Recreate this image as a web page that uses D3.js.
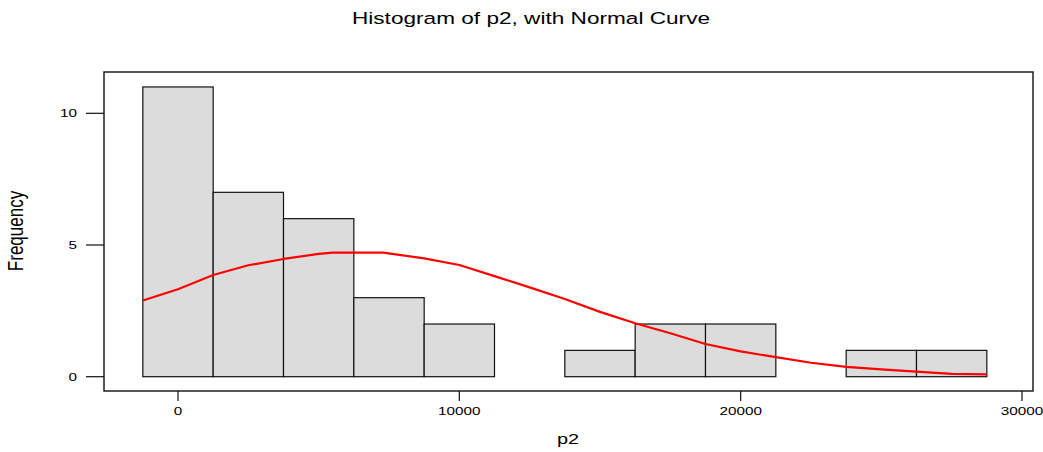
<!DOCTYPE html>
<html><head><meta charset="utf-8">
<script src="https://cdn.jsdelivr.net/npm/d3@7"></script>
<style>body{margin:0;background:#fff}svg{display:block}text{font-family:"Liberation Sans",Arial,sans-serif;fill:#000}</style>
</head><body><svg id="c" width="1043" height="452"></svg>
<script>
const binEdges = [-1250,1250,3750,6250,8750,11250,13750,16250,18750,21250,23750,26250,28750];
const counts = [11,7,6,3,2,0,1,2,2,0,1,1];
const curveX = [-1250,0,1250,2500,3750,5000,5500,6250,7300,8750,10000,11250,12500,13750,15000,16250,17500,18750,20000,21250,22500,23750,25000,26250,27500,28750];
const curveY = [2.89,3.32,3.86,4.23,4.47,4.66,4.71,4.71,4.71,4.49,4.24,3.82,3.39,2.95,2.46,2.03,1.65,1.24,0.96,0.74,0.53,0.375,0.28,0.19,0.11,0.09];
const xTicks = [0,10000,20000,30000];
const yTicks = [0,5,10];
const title = "Histogram of p2, with Normal Curve";
const xLabel = "p2", yLabel = "Frequency";

const svg = d3.select("#c");
const SX = 1.33;
const x = d3.scaleLinear().domain([0,30000]).range([178,1022]);
const y = d3.scaleLinear().domain([0,10]).range([376.7,113.3]);

// frame
svg.append("rect").attr("x",104).attr("y",72).attr("width",929).attr("height",319)
  .attr("fill","none").attr("stroke","#111").attr("stroke-width",1.4);

// bars
const bins = counts.map((c,i)=>({x0:binEdges[i],x1:binEdges[i+1],c}));
svg.append("g").selectAll("rect").data(bins).join("rect")
  .attr("x",d=>x(d.x0)).attr("width",d=>x(d.x1)-x(d.x0))
  .attr("y",d=>y(d.c)).attr("height",d=>y(0)-y(d.c))
  .attr("fill","#dcdcdc").attr("stroke","#111").attr("stroke-width",1.2);

// curve
const pts = curveX.map((v,i)=>[v,curveY[i]]);
svg.append("path").datum(pts)
  .attr("d",d3.line().x(d=>x(d[0])).y(d=>y(d[1])))
  .attr("fill","none").attr("stroke","#ff0000").attr("stroke-width",2.2).attr("stroke-linejoin","round");

// x axis ticks
const xg = svg.append("g");
xTicks.forEach(t=>{
  xg.append("line").attr("x1",x(t)).attr("x2",x(t)).attr("y1",391).attr("y2",401)
    .attr("stroke","#111").attr("stroke-width",1.2);
  xg.append("text").attr("transform",`translate(${x(t)},415) scale(${SX},1)`)
    .attr("text-anchor","middle").attr("font-size",11.5).text(d3.format("d")(t));
});
// y axis ticks
const yg = svg.append("g");
yTicks.forEach(t=>{
  yg.append("line").attr("x1",86).attr("x2",104).attr("y1",y(t)).attr("y2",y(t))
    .attr("stroke","#111").attr("stroke-width",1.2);
  yg.append("text").attr("transform",`translate(77,${y(t)+4}) scale(${SX},1)`)
    .attr("text-anchor","end").attr("font-size",11.5).text(t);
});

svg.append("text").attr("transform",`translate(531,24) scale(${SX},1)`)
  .attr("text-anchor","middle").attr("font-size",17).text(title);
svg.append("text").attr("transform",`translate(568,444) scale(${SX},1)`)
  .attr("text-anchor","middle").attr("font-size",15).text(xLabel);
svg.append("text").attr("transform",`translate(23,231) scale(${SX},1) rotate(-90)`)
  .attr("text-anchor","middle").attr("font-size",17).text(yLabel);
</script></body></html>
